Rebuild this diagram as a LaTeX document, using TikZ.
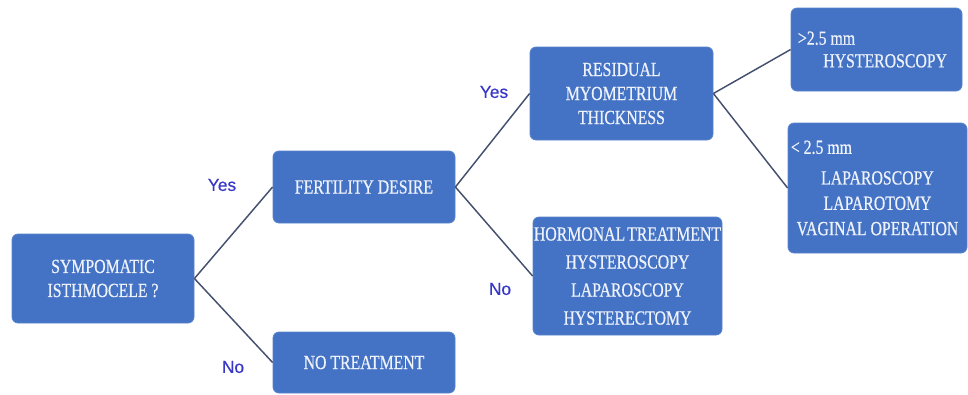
\documentclass[tikz,border=0pt]{standalone}
\usepackage{fontspec}
\setmainfont{Liberation Serif}
\newfontfamily\boxfont{Liberation Serif}[FakeStretch=0.79,FakeBold=0.6]
\newfontfamily\labfont{Liberation Sans}[FakeBold=0.5]
\definecolor{boxblue}{HTML}{4472C4}
\definecolor{boxedge}{HTML}{5A84CC}
\definecolor{boxtext}{HTML}{EEF2FA}
\definecolor{labblue}{HTML}{3838C8}
\definecolor{linecol}{HTML}{44506E}
\tikzset{
  flowbox/.style={draw=boxedge, line width=0.6pt, fill=boxblue, rounded corners=4.5pt,
    text=boxtext, inner sep=0pt, align=center,
    font=\boxfont\fontsize{15}{18}\selectfont},
  ynlabel/.style={text=labblue, font=\labfont\fontsize{13}{15}\selectfont, inner sep=0pt},
  conn/.style={draw=linecol, line width=1.1pt}
}
\begin{document}
\begin{tikzpicture}[x=0.75pt,y=-0.75pt]
\useasboundingbox (0,0) rectangle (968,394);
\node[flowbox, minimum width=136.5pt, minimum height=66.75pt] (sym) at (103,278.5) {SYMPOMATIC\\ISTHMOCELE ?};
\node[flowbox, minimum width=136.5pt, minimum height=54pt] (fert) at (364,187) {FERTILITY DESIRE};
\node[flowbox, minimum width=136.5pt, minimum height=45.75pt] (notr) at (364,362.5) {NO TREATMENT};
\node[flowbox, minimum width=137.25pt, minimum height=69.75pt] (resid) at (621.5,93.5) {RESIDUAL\\MYOMETRIUM\\THICKNESS};
\node[flowbox, minimum width=141.75pt, minimum height=88.5pt, font=\boxfont\fontsize{15}{21}\selectfont] (horm) at (627.5,276)
  {HORMONAL\hspace{-1.5pt} TREATMENT\\HYSTEROSCOPY\\LAPAROSCOPY\\HYSTERECTOMY};
\node[flowbox, minimum width=128.25pt, minimum height=62.25pt, align=left] (gt) at (876.5,49.5)
  {\hspace*{-6pt}>2.5 mm\\[-1pt]\hspace*{13pt}HYSTEROSCOPY};
\node[flowbox, minimum width=134.25pt, minimum height=97.5pt, font=\boxfont\fontsize{15}{19}\selectfont] (lt) at (877.5,188)
  {\makebox[130pt][l]{< 2.5 mm}\\[4pt]LAPAROSCOPY\\LAPAROTOMY\\VAGINAL OPERATION};
\draw[conn] (sym.east) -- (fert.west);
\draw[conn] (sym.east) -- (notr.west);
\draw[conn] (fert.east) -- (resid.west);
\draw[conn] (fert.east) -- (horm.west);
\draw[conn] (resid.east) -- (gt.west);
\draw[conn] (resid.east) -- (lt.west);
\node[ynlabel] (y1) at (222,185) {Yes};
\node[ynlabel] (n1) at (233,367) {No};
\node[ynlabel] (y2) at (494,92) {Yes};
\node[ynlabel] (n2) at (500,289) {No};
\end{tikzpicture}
\end{document}
